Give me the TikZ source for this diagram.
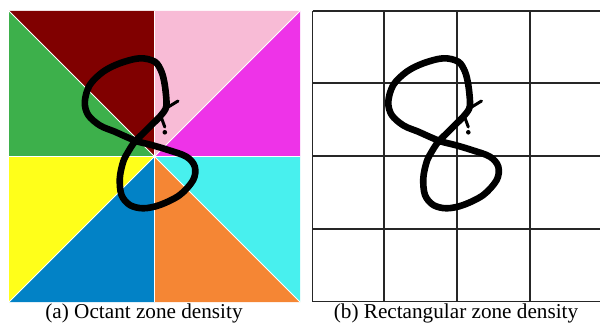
\documentclass[tikz,border=0pt]{standalone}
\usepackage{fontspec}
\setmainfont{Liberation Serif}
\definecolor{octmaroon}{HTML}{800000}
\definecolor{octpink}{HTML}{F8BBD6}
\definecolor{octmagenta}{HTML}{EE33E8}
\definecolor{octcyan}{HTML}{48F0EE}
\definecolor{octorange}{HTML}{F58634}
\definecolor{octblue}{HTML}{0282C6}
\definecolor{octyellow}{HTML}{FFFF1A}
\definecolor{octgreen}{HTML}{3DB04B}
\begin{document}
\begin{tikzpicture}[
      x=1pt, y=-1pt,
      caption/.style={anchor=base, font=\fontsize{21.2}{24}\selectfont},
      sep/.style={white, line width=1pt},
      gridline/.style={black!85, line width=1.4pt},
      pen/.style={black, line width=6.6pt, line join=round, line cap=round},
      thinpen/.style={black, line width=3pt, line cap=round}
    ]
      \useasboundingbox (0,0) rectangle (600,323);

      % octant zones
      \coordinate (o) at (154.5,156.5);
      \coordinate (nw) at (9,11);
      \coordinate (n) at (154.5,11);
      \coordinate (ne) at (300,11);
      \coordinate (e) at (300,156.5);
      \coordinate (se) at (300,302);
      \coordinate (s) at (154.5,302);
      \coordinate (sw) at (9,302);
      \coordinate (w) at (9,156.5);
      \fill[octmaroon] (o) -- (nw) -- (n) -- cycle;
      \fill[octpink] (o) -- (n) -- (ne) -- cycle;
      \fill[octmagenta] (o) -- (ne) -- (e) -- cycle;
      \fill[octcyan] (o) -- (e) -- (se) -- cycle;
      \fill[octorange] (o) -- (se) -- (s) -- cycle;
      \fill[octblue] (o) -- (s) -- (sw) -- cycle;
      \fill[octyellow] (o) -- (sw) -- (w) -- cycle;
      \fill[octgreen] (o) -- (w) -- (nw) -- cycle;
      \draw[sep] (nw) -- (se);
      \draw[sep] (ne) -- (sw);
      \draw[sep] (n) -- (s);
      \draw[sep] (w) -- (e);

      % rectangular zones
      \foreach \gx in {312.5,384,457,530}
        \draw[gridline] (\gx,11) -- (\gx,301.5);
      \foreach \gy in {11,83,156,229,301.5}
        \draw[gridline] (312.5,\gy) -- (600,\gy);

      % the digit
      \foreach \ox in {9,312.5} {
        \begin{scope}[shift={(\ox,11)}]
          \draw[pen] plot[smooth cycle, tension=0.55] coordinates {
            (130.8,47.3) (145.8,50.7) (152.5,60.7) (155.8,74) (157.5,90.7)
            (156.5,98) (150.8,105.7) (142.5,114) (134.2,122.3) (125.8,130.7)
            (119.2,140.7) (114.2,150.7) (110.8,167.3) (112.5,184) (120.8,194)
            (134.2,197.3) (150.8,194) (170.8,184) (184.2,169) (185.8,155.7)
            (177.5,145.7) (159.2,139) (142.5,134) (129.2,130.7) (119.2,126.7)
            (105.8,120.7) (91,114.5) (79.2,104) (75.8,90.7) (80.8,74)
            (94.2,60.7) (110.8,52.3)};
          \draw[thinpen] (156,98) -- (169,90);
          \draw[thinpen] (152.5,107) -- (155.8,116);
          \fill (155.8,121.3) circle (2.3);
        \end{scope}
      }

      \node[caption] (capa) at (144,318) {(a) Octant zone density};
      \node[caption] (capb) at (456,318) {(b) Rectangular zone density};
    \end{tikzpicture}
\end{document}
